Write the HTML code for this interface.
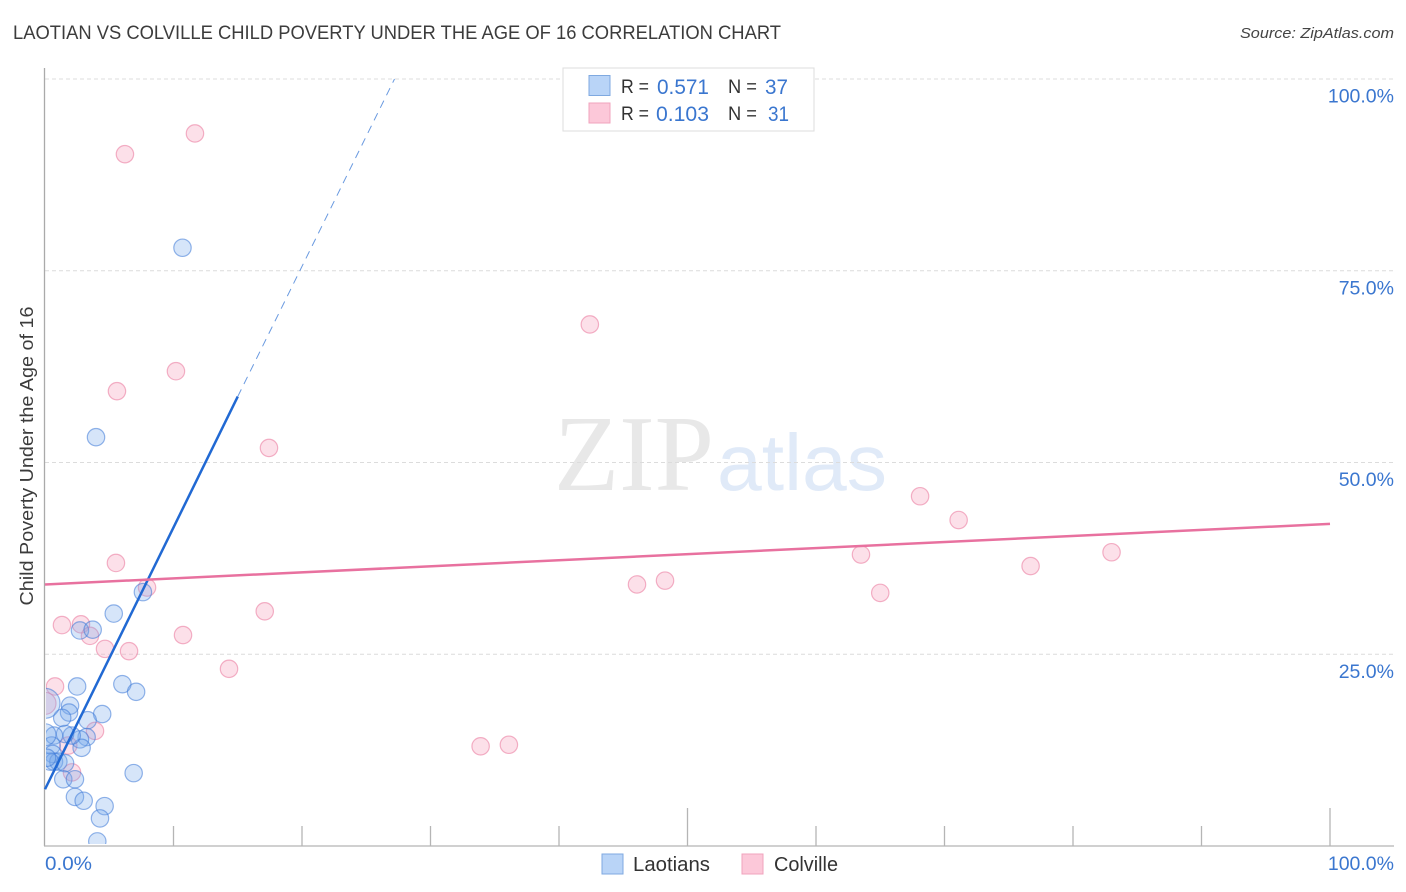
<!DOCTYPE html>
<html>
<head>
<meta charset="utf-8">
<title>Laotian vs Colville Child Poverty Correlation Chart</title>
<style>
html,body{margin:0;padding:0;background:#fff;width:1406px;height:892px;overflow:hidden}
svg{display:block;font-family:"Liberation Sans",sans-serif}
</style>
</head>
<body>
<svg id="chart" xmlns="http://www.w3.org/2000/svg" width="1406" height="892" viewBox="0 0 1406 892">
  <rect width="1406" height="892" fill="#fff"/>
  <text x="13" y="39" font-size="19.5" fill="#3c3c3c" textLength="768" lengthAdjust="spacingAndGlyphs">LAOTIAN VS COLVILLE CHILD POVERTY UNDER THE AGE OF 16 CORRELATION CHART</text>
  <text x="1394" y="38" font-size="15" font-style="italic" fill="#444" text-anchor="end" textLength="154" lengthAdjust="spacingAndGlyphs">Source: ZipAtlas.com</text>
  <g>
    <text x="554" y="490" font-family="'Liberation Serif',serif" font-size="108" fill="#e8e8e8" textLength="160" lengthAdjust="spacingAndGlyphs">ZIP</text>
    <text x="717" y="490" font-size="80" fill="#e0eaf8" textLength="170" lengthAdjust="spacingAndGlyphs">atlas</text>
  </g>
  <g id="grid"></g>
  <svg id="marks" x="46" y="60" width="1348" height="784" viewBox="46 60 1348 784" overflow="hidden"></svg>
  <rect x="20" y="660" width="25.500" height="140" fill="#fff"/>
  <g id="axes"></g>
  <g id="trends"></g>
  <text transform="translate(33,456) rotate(-90)" font-size="18" fill="#3c3c3c" text-anchor="middle" textLength="299" lengthAdjust="spacingAndGlyphs">Child Poverty Under the Age of 16</text>

  <g>
    <rect x="563" y="68" width="251" height="63" fill="#fff" stroke="#ddd" stroke-width="1"/>
    <rect x="589" y="75.500" width="21" height="20" fill="#b9d4f7" stroke="#7fa9e0" stroke-width="1"/>
    <rect x="589" y="103" width="21" height="20" fill="#fcc8d9" stroke="#f0a3bd" stroke-width="1"/>
    <text x="621" y="93" font-size="19" fill="#333" textLength="28" lengthAdjust="spacingAndGlyphs">R =</text>
    <text x="657" y="94" font-size="21" fill="#3a76cf" textLength="52" lengthAdjust="spacingAndGlyphs">0.571</text>
    <text x="728" y="93" font-size="19" fill="#333" textLength="29" lengthAdjust="spacingAndGlyphs">N =</text>
    <text x="765" y="94" font-size="21" fill="#3a76cf" textLength="23" lengthAdjust="spacingAndGlyphs">37</text>
    <text x="621" y="120" font-size="19" fill="#333" textLength="28" lengthAdjust="spacingAndGlyphs">R =</text>
    <text x="656" y="121" font-size="21" fill="#3a76cf" textLength="53" lengthAdjust="spacingAndGlyphs">0.103</text>
    <text x="728" y="120" font-size="19" fill="#333" textLength="29" lengthAdjust="spacingAndGlyphs">N =</text>
    <text x="768" y="121" font-size="21" fill="#3a76cf" textLength="21" lengthAdjust="spacingAndGlyphs">31</text>
  </g>

  <g>
    <rect x="602" y="854" width="21" height="20" fill="#b9d4f7" stroke="#7fa9e0" stroke-width="1"/>
    <text x="633" y="871" font-size="20" fill="#333" textLength="77" lengthAdjust="spacingAndGlyphs">Laotians</text>
    <rect x="742" y="854" width="21" height="20" fill="#fcc8d9" stroke="#f0a3bd" stroke-width="1"/>
    <text x="774" y="871" font-size="20" fill="#333" textLength="64" lengthAdjust="spacingAndGlyphs">Colville</text>
  </g>
</svg>
<script>
var xTicks = [0,10,20,30,40,50,60,70,80,90,100];
var yTicks = [25,50,75,100];
var yTickLabels = ['25.0%','50.0%','75.0%','100.0%'];
var xEndLabels = ['0.0%','100.0%'];

var laotianX = [10.7,3.97,7.62,5.35,2.72,3.71,2.5,6.02,7.09,4.45,1.95,1.87,1.34,3.32,3.24,2.72,2.85,2.08,1.56,0.70,0.52,0.60,0.70,1.04,1.56,1.42,2.33,6.90,2.33,3.01,4.64,4.28,4.07,0.39,0,0,0.16];
var laotianY = [78.0,53.3,33.1,30.3,28.1,28.2,20.8,21.1,20.1,17.2,18.3,17.4,16.7,16.4,14.2,13.9,12.8,14.4,14.6,14.4,13.1,12.0,11.0,11.0,10.8,8.7,8.7,9.5,6.4,5.9,5.2,3.6,0.6,11.0,18.6,14.5,11.5];
var laotianWeight = [1,1,1,1,1,1,1,1,1,1,1,1,1,1,1,1,1,1,1,1,1,1,1,1,1,1,1,1,1,1,1,1,1,1,3,2,1];

var colvilleX = [11.67,6.22,42.4,10.19,5.60,17.43,68.1,71.1,83.0,63.5,76.7,5.52,48.25,46.07,7.94,65.0,17.1,1.32,2.80,3.50,10.74,4.67,6.54,14.32,0.78,0,3.89,1.81,2.10,33.9,36.1];
var colvilleY = [92.9,90.2,68.0,61.9,59.3,51.9,45.6,42.5,38.3,38.0,36.5,36.9,34.6,34.1,33.7,33.0,30.6,28.8,28.9,27.4,27.5,25.7,25.4,23.1,20.8,18.6,15.0,13.1,9.6,13.0,13.2];
var colvilleWeight = [1,1,1,1,1,1,1,1,1,1,1,1,1,1,1,1,1,1,1,1,1,1,1,1,1,2,1,1,1,1,1];

var laotianTrendX = [0,15,27.2];
var laotianTrendY = [7.4,58.6,100];
var colvilleTrendX = [0,100];
var colvilleTrendY = [34.1,42.0];

var NS = 'http://www.w3.org/2000/svg';
function xScale(v){ return 45 + v * 12.85; }
function yScale(v){ return 846 - v * 7.67; }
function rScale(w){ return w === 1 ? 8.7 : (w === 2 ? 11 : 15); }
function make(tag, attrs, parent){
  var el = document.createElementNS(NS, tag);
  for (var k in attrs) el.setAttribute(k, attrs[k]);
  parent.appendChild(el);
  return el;
}
var grid = document.getElementById('grid');
var axes = document.getElementById('axes');
var marks = document.getElementById('marks');
var trends = document.getElementById('trends');

yTicks.forEach(function(t, i){
  var y = yScale(t);
  var line = make('line', {x1:45, x2:1394, y1:y, y2:y, stroke:'#dcdcdc', 'stroke-width':1, 'stroke-dasharray':'4 3'}, grid);
  
  
  var lab = make('text', {x:1394, y:y + 23.5, 'font-size':19.5, fill:'#3a76cf', 'text-anchor':'end'}, axes);
  
  
  lab.textContent = yTickLabels[i];
});

var yAxis = make('line', {x1:44.5, x2:44.5, y1:68, y2:846, stroke:'#aaa', 'stroke-width':1.3}, axes);


var xAxis = make('line', {x1:44, x2:1394, y1:846, y2:846, stroke:'#b5b5b5', 'stroke-width':1.3}, axes);



xTicks.forEach(function(t){
  if (t === 0) return;
  var x = xScale(t);
  var major = (t === 50 || t === 100);
  var tick = make('line', {x1:x, x2:x, y1:major ? 808 : 826, y2:846, stroke:'#b5b5b5', 'stroke-width':1.3}, axes);
  
  
});

var xl0 = make('text', {x:45, y:870, 'font-size':19.5, fill:'#3a76cf', textLength:47, lengthAdjust:'spacingAndGlyphs'}, axes);


xl0.textContent = xEndLabels[0];
var xl1 = make('text', {x:1394, y:870, 'font-size':19.5, fill:'#3a76cf', 'text-anchor':'end'}, axes);


xl1.textContent = xEndLabels[1];

colvilleX.forEach(function(v, i){
  var c = make('circle', {cx:xScale(v), cy:yScale(colvilleY[i]), r:rScale(colvilleWeight[i]), fill:'rgba(248,170,195,0.36)', stroke:'rgba(236,130,165,0.62)', 'stroke-width':1.2}, marks);
  
  
});
laotianX.forEach(function(v, i){
  var c = make('circle', {cx:xScale(v), cy:yScale(laotianY[i]), r:rScale(laotianWeight[i]), fill:'rgba(120,170,235,0.3)', stroke:'rgba(60,120,215,0.55)', 'stroke-width':1.2}, marks);
  
  
});

var blueSolid = make('line', {x1:xScale(laotianTrendX[0]), y1:yScale(laotianTrendY[0]), x2:xScale(laotianTrendX[1]), y2:yScale(laotianTrendY[1]), stroke:'#2169d3', 'stroke-width':2.5}, trends);


var blueDash = make('line', {x1:xScale(laotianTrendX[1]), y1:yScale(laotianTrendY[1]), x2:xScale(laotianTrendX[2]), y2:yScale(laotianTrendY[2]), stroke:'#6a9ae0', 'stroke-width':1, 'stroke-dasharray':'8 6'}, trends);


var pinkLine = make('line', {x1:xScale(colvilleTrendX[0]), y1:yScale(colvilleTrendY[0]), x2:xScale(colvilleTrendX[1]), y2:yScale(colvilleTrendY[1]), stroke:'#e8719f', 'stroke-width':2.5}, trends);


</script>
</body>
</html>
